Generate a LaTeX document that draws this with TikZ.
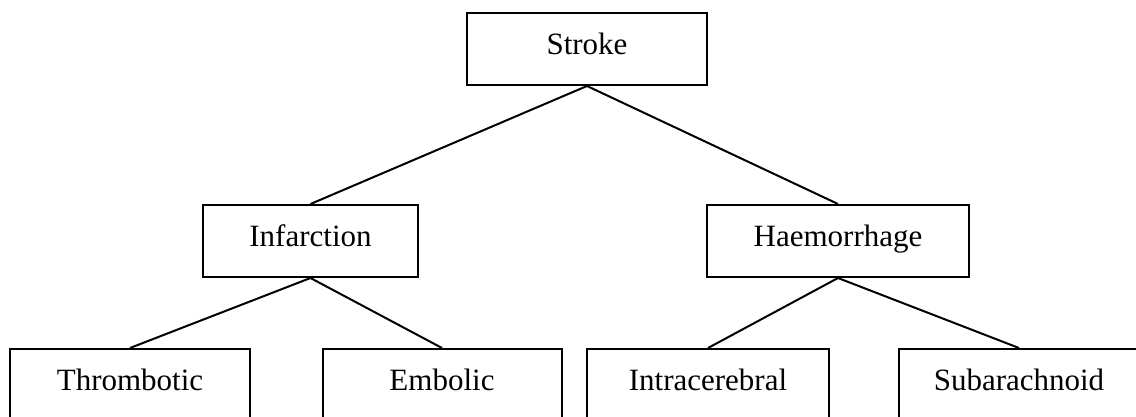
\documentclass[tikz,border=0pt]{standalone}
\usepackage{fontspec}
\setmainfont{Liberation Serif}
\begin{document}
\begin{tikzpicture}[x=1pt,y=-1pt,
  box/.style={draw=black, line width=2pt, rectangle, minimum height=72pt,
    inner sep=0pt, text height=31pt, text depth=20pt,
    font=\fontsize{31}{36}\selectfont},
  link/.style={draw=black, line width=2pt}]
\useasboundingbox (0,0) rectangle (1136,417);
\clip (0,0) rectangle (1136,417);
\node[box, minimum width=240pt] (stroke) at (587,49) {Stroke};
\node[box, minimum width=215pt] (infarction) at (310.5,241) {Infarction};
\node[box, minimum width=262pt] (haem) at (838,241) {Haemorrhage};
\node[box, minimum width=240pt] (thromb) at (130,385) {Thrombotic};
\node[box, minimum width=239pt] (embolic) at (442,385) {Embolic};
\node[box, minimum width=242pt] (intra) at (708,385) {Intracerebral};
\node[box, minimum width=240pt] (subarach) at (1019,385) {Subarachnoid};
\draw[link] (stroke.south) -- (infarction.north);
\draw[link] (stroke.south) -- (haem.north);
\draw[link] (infarction.south) -- (thromb.north);
\draw[link] (infarction.south) -- (embolic.north);
\draw[link] (haem.south) -- (intra.north);
\draw[link] (haem.south) -- (subarach.north);
\end{tikzpicture}
\end{document}
